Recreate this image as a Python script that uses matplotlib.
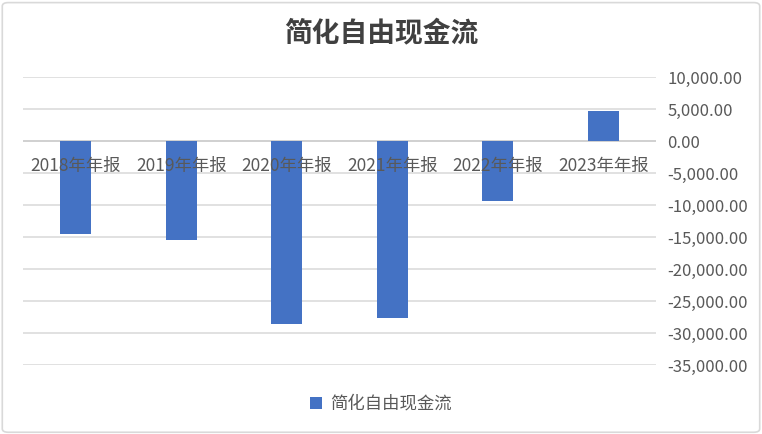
import matplotlib
matplotlib.use("Agg")
import matplotlib.pyplot as plt
from matplotlib.patches import FancyBboxPatch, Patch
from matplotlib.ticker import FuncFormatter, MultipleLocator

plt.rcParams['font.family'] = ['Noto Sans CJK SC', 'DejaVu Sans']

categories = ["2018年年报", "2019年年报", "2020年年报", "2021年年报", "2022年年报", "2023年年报"]
values = [-14500, -15430, -28640, -27650, -9380, 4700]
series_name = "简化自由现金流"
title = "简化自由现金流"

BAR_COLOR = "#4472C4"
TEXT_COLOR = "#595959"
GRID_COLOR = "#D9D9D9"

fig = plt.figure(figsize=(7.62, 4.34), dpi=100)
fig.patch.set_facecolor("white")
border = FancyBboxPatch((0.003, 0.004), 0.994, 0.990, boxstyle="round,pad=0,rounding_size=0.008",
                        transform=fig.transFigure, facecolor="none", edgecolor="#D9D9D9", linewidth=1.2)
fig.patches.append(border)

ax = fig.add_axes([23/762, 1-365/434, (656-23)/762, (365-77)/434])
x = list(range(len(categories)))
ax.bar(x, values, width=0.29, color=BAR_COLOR, zorder=2)
ax.set_xlim(-0.5, len(categories)-0.5)
ax.set_ylim(-35000, 10000)
ax.yaxis.set_major_locator(MultipleLocator(5000))
ax.yaxis.tick_right()
ax.yaxis.set_major_formatter(FuncFormatter(lambda v, p: f"{v:,.2f}"))
ax.tick_params(axis='y', length=0, pad=8, labelsize=12, labelcolor=TEXT_COLOR)
ax.set_xticks([])
ax.grid(axis='y', color=GRID_COLOR, linewidth=1.1, zorder=0)
ax.set_axisbelow(True)
for s in ax.spines.values():
    s.set_visible(False)
ax.axhline(0, color="#D0D0D0", linewidth=1.3, zorder=1)

for xi, lab in zip(x, categories):
    ax.annotate(lab, xy=(xi, 0), xytext=(0, -18), textcoords="offset points",
                ha="center", va="center", fontsize=12.5, color=TEXT_COLOR, zorder=5)

fig.text(0.5, 1-33/434, title, ha="center", va="center", fontsize=20,
         fontweight="bold", color="#404040")

handle = Patch(facecolor=BAR_COLOR, edgecolor="none")
fig.legend([handle], [series_name], loc="center", bbox_to_anchor=(0.5, 1-404/434),
           frameon=False, fontsize=12.5, handlelength=0.7, handleheight=0.7,
           handletextpad=0.5, labelcolor=TEXT_COLOR)

fig.savefig("out.png", dpi=100, facecolor="white")
